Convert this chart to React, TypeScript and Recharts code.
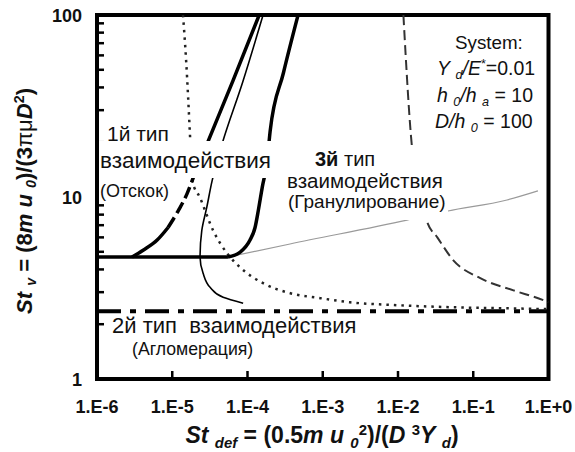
import React from 'react';
import { LineChart, Line, XAxis, YAxis, ReferenceArea } from 'recharts';

const xTicks = [1e-6, 1e-5, 1e-4, 1e-3, 1e-2, 1e-1, 1];
const xTickLabels = ['1.E-6', '1.E-5', '1.E-4', '1.E-3', '1.E-2', '1.E-1', '1.E+0'];
const yTicks = [1, 2, 3, 4, 5, 6, 7, 8, 9, 10, 20, 30, 40, 50, 60, 70, 80, 90, 100];
const yMajorTicks = [1, 10, 100];
const yTickLabels = ['1', '10', '100'];

// thick horizontal boundary
const baseLine = [
  { x: 1e-6, y: 4.68 },
  { x: 5.5e-5, y: 4.68 },
];
// thick right boundary (knee)
const kneeCurve = [
  { x: 5.5e-5, y: 4.68 },
  { x: 8.0e-5, y: 4.98 },
  { x: 1.08e-4, y: 5.8 },
  { x: 1.26e-4, y: 6.8 },
  { x: 1.39e-4, y: 8.4 },
  { x: 1.57e-4, y: 11.3 },
  { x: 1.83e-4, y: 15.9 },
  { x: 2.0e-4, y: 23 },
  { x: 3.0e-4, y: 48 },
  { x: 4.7e-4, y: 100 },
];
// thick left boundary: solid lower, dashed middle, solid upper
const leftLower = [
  { x: 2.92e-6, y: 4.68 },
  { x: 4.1e-6, y: 5.1 },
  { x: 6.3e-6, y: 5.8 },
  { x: 8.8e-6, y: 6.8 },
];
const leftMiddle = [
  { x: 8.8e-6, y: 6.8 },
  { x: 1.2e-5, y: 8.4 },
  { x: 1.57e-5, y: 10.4 },
  { x: 1.84e-5, y: 12.3 },
  { x: 2.3e-5, y: 16 },
  { x: 2.9e-5, y: 19.6 },
];
const leftUpper = [
  { x: 2.9e-5, y: 19.6 },
  { x: 6.4e-5, y: 43.5 },
  { x: 1.43e-4, y: 100 },
];
// dotted boundary
const dottedCurve = [
  { x: 1.39e-5, y: 100 },
  { x: 1.53e-5, y: 56 },
  { x: 1.73e-5, y: 20.9 },
  { x: 1.84e-5, y: 12.3 },
  { x: 2.34e-5, y: 9.9 },
  { x: 3.49e-5, y: 6.55 },
  { x: 5.36e-5, y: 4.9 },
  { x: 8.0e-5, y: 4.1 },
  { x: 1.61e-4, y: 3.36 },
  { x: 3.7e-4, y: 2.96 },
  { x: 9.3e-4, y: 2.78 },
  { x: 2.3e-3, y: 2.64 },
  { x: 1.07e-2, y: 2.54 },
  { x: 5e-2, y: 2.48 },
  { x: 0.23, y: 2.45 },
  { x: 1, y: 2.42 },
];
// thin black curve
const thinCurve = [
  { x: 1.61e-4, y: 100 },
  { x: 8.6e-5, y: 42.6 },
  { x: 4.6e-5, y: 19.6 },
  { x: 3.39e-5, y: 12.3 },
  { x: 2.88e-5, y: 8.8 },
  { x: 2.47e-5, y: 6.55 },
  { x: 2.34e-5, y: 4.68 },
  { x: 2.57e-5, y: 3.81 },
  { x: 3.18e-5, y: 3.19 },
  { x: 4.74e-5, y: 2.81 },
  { x: 8.75e-5, y: 2.61 },
];
// thin gray line
const grayLine = [
  { x: 5.5e-5, y: 4.68 },
  { x: 3.67e-4, y: 5.52 },
  { x: 1.32e-2, y: 7.47 },
  { x: 4.61e-2, y: 8.38 },
  { x: 0.281, y: 9.63 },
  { x: 0.724, y: 10.8 },
];
// long-dashed curve on the right
const dashedCurve = [
  { x: 1.18e-2, y: 100 },
  { x: 1.55e-2, y: 18 },
  { x: 2.45e-2, y: 7.25 },
  { x: 3.33e-2, y: 6.0 },
  { x: 5.44e-2, y: 4.49 },
  { x: 0.124, y: 3.58 },
  { x: 0.342, y: 3.07 },
  { x: 0.857, y: 2.71 },
  { x: 1, y: 2.64 },
];
// dash-dot horizontal
const dashDotLine = [
  { x: 1e-6, y: 2.36 },
  { x: 1, y: 2.36 },
];

const FONT = '"Liberation Sans", Arial, Helvetica, sans-serif';

const XTick = (props: any) => {
  const { x, y, payload } = props;
  const i = xTicks.findIndex((t) => Math.abs(Math.log10(t) - Math.log10(payload.value)) < 1e-6);
  const label = i >= 0 ? xTickLabels[i] : '';
  return (
    <g>
      <line x1={x} y1={y} x2={x} y2={y - 8} stroke="#000" strokeWidth={2.5} />
      <text x={x} y={y + 34} textAnchor="middle" fontSize={18} fontWeight="bold" fontFamily={FONT} fill="#111">
        {label}
      </text>
    </g>
  );
};

const YTick = (props: any) => {
  const { x, y, payload } = props;
  const i = yMajorTicks.findIndex((t) => Math.abs(t - payload.value) < 1e-9);
  const label = i >= 0 ? yTickLabels[i] : '';
  return (
    <g>
      <line x1={x} y1={y} x2={x + (i >= 0 ? 9 : 7)} y2={y} stroke="#000" strokeWidth={2.5} />
      {label && (
        <text x={x - 15} y={y + 6.5} textAnchor="end" fontSize={18} fontWeight="bold" fontFamily={FONT} fill="#111">
          {label}
        </text>
      )}
    </g>
  );
};

const Sub = ({ children, size = 0.65 }: any) => (
  <span style={{ fontSize: `${size}em`, verticalAlign: '-0.3em', fontStyle: 'italic' }}>{children}</span>
);
const Sup = ({ children, size = 0.65 }: any) => (
  <span style={{ fontSize: `${size}em`, verticalAlign: '0.55em' }}>{children}</span>
);

const abs = (left: number, cy: number, fs: number, extra: any = {}): React.CSSProperties => ({
  position: 'absolute',
  left,
  top: cy,
  transform: 'translateY(-50%)',
  fontSize: fs,
  lineHeight: 1,
  whiteSpace: 'nowrap',
  color: '#111',
  fontFamily: FONT,
  ...extra,
});

const bg = (left: number, top: number, width: number, height: number): React.CSSProperties => ({
  position: 'absolute',
  left,
  top,
  width,
  height,
  background: '#fff',
});

export default function App() {
  return (
    <div style={{ position: 'relative', width: 575, height: 452, overflow: 'hidden', fontFamily: FONT, background: '#fff' }}>
      <style>{'html,body{margin:0;padding:0;overflow:hidden;background:#fff}'}</style>
      <LineChart width={575} height={452} margin={{ top: 15, right: 26.5, bottom: 0, left: 0 }}>
        <XAxis
          dataKey="x"
          type="number"
          scale="log"
          domain={[1e-6, 1]}
          allowDataOverflow
          ticks={xTicks}
          interval={0}
          height={73}
          tickSize={0}
          tickMargin={0}
          tickLine={false}
          axisLine={false}
          tick={<XTick />}
        />
        <YAxis
          type="number"
          scale="log"
          domain={[1, 100]}
          allowDataOverflow
          ticks={yTicks}
          interval={0}
          width={97}
          tickSize={0}
          tickMargin={0}
          tickLine={false}
          axisLine={false}
          tick={<YTick />}
        />
        <Line data={grayLine} dataKey="y" type="monotone" stroke="#9a9a9a" strokeWidth={1.2} dot={false} isAnimationActive={false} />
        <Line data={dashDotLine} dataKey="y" type="linear" stroke="#000" strokeWidth={4} strokeDasharray="24 9 6 9" dot={false} isAnimationActive={false} />
        <Line data={dottedCurve} dataKey="y" type="monotone" stroke="#222" strokeWidth={2.5} strokeDasharray="2.5 5" dot={false} isAnimationActive={false} />
        <Line data={dashedCurve} dataKey="y" type="monotone" stroke="#333" strokeWidth={2} strokeDasharray="10 5" dot={false} isAnimationActive={false} />
        <Line data={thinCurve} dataKey="y" type="monotoneY" stroke="#000" strokeWidth={1.6} dot={false} isAnimationActive={false} />
        <Line data={baseLine} dataKey="y" type="linear" stroke="#000" strokeWidth={3.5} dot={false} isAnimationActive={false} />
        <Line data={kneeCurve} dataKey="y" type="monotone" stroke="#000" strokeWidth={3.5} dot={false} isAnimationActive={false} />
        <Line data={leftLower} dataKey="y" type="monotone" stroke="#000" strokeWidth={3.5} dot={false} isAnimationActive={false} />
        <Line data={leftMiddle} dataKey="y" type="monotone" stroke="#000" strokeWidth={3.5} strokeDasharray="12 5" dot={false} isAnimationActive={false} />
        <Line data={leftUpper} dataKey="y" type="linear" stroke="#000" strokeWidth={3.5} dot={false} isAnimationActive={false} />
        <ReferenceArea x1={1e-6} x2={1} y1={1} y2={100} fill="none" stroke="#000" strokeWidth={4} ifOverflow="visible" />
      </LineChart>

      {/* block 1 */}
      <div style={bg(104, 121, 69, 24)} />
      <div style={bg(99, 141, 177, 37)} />
      <div style={bg(99, 181, 76, 23)} />
      <div style={abs(107, 133, 21)}>1й тип</div>
      <div style={abs(100, 161, 22.5)}>взаимодействия</div>
      <div style={abs(100, 191, 18)}>(Отскок)</div>

      {/* block 2 */}
      <div style={bg(285, 149, 163, 71)} />
      <div style={abs(315, 159, 20)}>
        <b>3й</b> тип
      </div>
      <div style={abs(287, 181, 20.5)}>взаимодействия</div>
      <div style={abs(288, 201, 19)}>(Гранулирование)</div>

      {/* block 3 */}
      <div style={abs(112, 326, 22)}>2й тип&nbsp; взаимодействия</div>
      <div style={abs(132, 350, 17.7)}>(Агломерация)</div>

      {/* system box */}
      <div style={abs(455, 43, 18.8)}>System:</div>
      <div style={abs(437, 70, 19.5)}>
        <i>Y</i> <Sub>d</Sub>
        <i>/E</i>
        <Sup>*</Sup>=0.01
      </div>
      <div style={abs(437, 97, 19.5)}>
        <i>h</i> <Sub>0</Sub>
        <i>/h</i> <Sub>a</Sub> = 10
      </div>
      <div style={abs(435, 123, 19.5)}>
        <i>D/h</i> <Sub>0</Sub> = 100
      </div>

      {/* x axis title */}
      <div
        style={{
          position: 'absolute',
          left: 122,
          width: 400,
          top: 423,
          height: 28,
          display: 'flex',
          alignItems: 'center',
          justifyContent: 'center',
          fontSize: 23,
          fontWeight: 'bold',
          lineHeight: 1,
          whiteSpace: 'nowrap',
          color: '#111',
        }}
      >
        <span>
          <i>St</i> <Sub>def</Sub> = (0.5<i>m u</i> <Sub>0</Sub>
          <Sup>2</Sup>)/(<i>D</i> <Sup>3</Sup>
          <i>Y</i> <Sub>d</Sub>)
        </span>
      </div>

      {/* y axis title */}
      <div
        style={{
          position: 'absolute',
          left: 25 - 160,
          width: 320,
          top: 201 - 15,
          height: 30,
          display: 'flex',
          alignItems: 'center',
          justifyContent: 'center',
          transform: 'rotate(-90deg)',
          fontSize: 22,
          fontWeight: 'bold',
          lineHeight: 1,
          whiteSpace: 'nowrap',
          color: '#111',
        }}
      >
        <span>
          <i>St</i> <Sub>v</Sub> = (8<i>m u</i> <Sub>0</Sub>)/(3
          <span style={{ fontWeight: 'normal' }}>πμ</span>
          <i>D</i>
          <Sup>2</Sup>)
        </span>
      </div>
    </div>
  );
}
